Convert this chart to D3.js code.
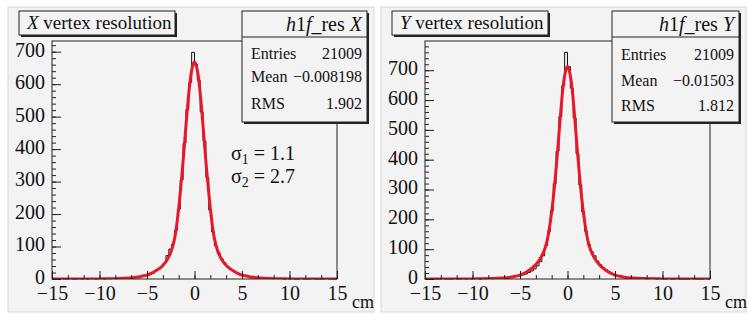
<!DOCTYPE html>
<html>
<head>
<meta charset="utf-8">
<script src="https://cdn.jsdelivr.net/npm/d3@7"></script>
<style>
  body { margin: 0; background: #fff; }
  svg text { font-family: "Liberation Serif", "Times New Roman", serif; fill: #111; }
</style>
</head>
<body>
<div id="chart"></div>
<script>
// histogram binning: 100 bins between -15 and 15 cm
const binLo = -15;
const binHi = 15;
const nBins = 100;

const xTicks = [-15, -10, -5, 0, 5, 10, 15];
const yTicks = [0, 100, 200, 300, 400, 500, 600, 700];

// X vertex residuals, counts per bin (left to right)
const countsX = [
  0, 0, 0, 1, 0, 0, 1, 0, 0, 1,
  0, 1, 0, 1, 1, 0, 1, 1, 0, 1,
  1, 2, 1, 2, 2, 3, 3, 4, 5, 6,
  7, 8, 10, 12, 15, 18, 25, 30, 37, 48,
  72, 92, 108, 150, 215, 305, 418, 522, 605, 698,
  662, 612, 515, 425, 312, 212, 145, 102, 80, 63,
  50, 40, 32, 26, 20, 16, 12, 10, 8, 7,
  6, 5, 4, 3, 3, 2, 2, 1, 2, 1,
  1, 0, 1, 0, 1, 0, 0, 1, 0, 0,
  0, 1, 0, 0, 0, 0, 1, 0, 0, 0
];

// Y vertex residuals
const countsY = [
  0, 0, 1, 0, 0, 0, 1, 0, 0, 0,
  1, 0, 0, 1, 0, 1, 0, 1, 1, 0,
  1, 1, 2, 1, 2, 3, 2, 3, 4, 5,
  6, 8, 9, 11, 14, 17, 22, 27, 34, 44,
  58, 78, 112, 160, 228, 320, 428, 545, 648, 760,
  712, 640, 540, 420, 315, 225, 160, 115, 92, 78,
  60, 48, 38, 31, 25, 19, 15, 12, 9, 7,
  6, 5, 4, 3, 3, 2, 2, 1, 1, 2,
  1, 0, 1, 0, 0, 1, 0, 0, 1, 0,
  0, 0, 0, 1, 0, 0, 0, 0, 1, 0
];

// double gaussian fit
const fitPos = [-15, -12, -10, -9, -8, -7, -6, -5.5, -5, -4.5, -4, -3.5, -3, -2.5, -2.25, -2,
  -1.75, -1.5, -1.25, -1, -0.75, -0.5, -0.25, 0, 0.25, 0.5, 0.75, 1, 1.25, 1.5, 1.75,
  2, 2.25, 2.5, 3, 3.5, 4, 4.5, 5, 5.5, 6, 7, 8, 9, 10, 12, 15];
const fitX = [0, 0, 0.3, 0.7, 1.5, 3, 6, 9, 12, 18, 27, 37, 54, 82, 105, 140,
  195, 265, 345, 435, 525, 600, 650, 668, 650, 600, 525, 435, 345, 265, 195,
  140, 105, 82, 54, 37, 27, 18, 12, 9, 6, 3, 1.5, 0.7, 0.3, 0, 0];
const fitY = [0, 0, 0.3, 0.7, 1.5, 3, 6, 9, 13, 20, 30, 43, 62, 92, 115, 152,
  205, 270, 352, 445, 545, 635, 690, 713, 690, 635, 545, 445, 352, 270, 205,
  152, 115, 92, 62, 43, 30, 20, 13, 9, 6, 3, 1.5, 0.7, 0.3, 0, 0];

const statLabels = ["Entries", "Mean", "RMS"];
const statsX = ["21009", "\u22120.008198", "1.902"];
const statsY = ["21009", "\u22120.01503", "1.812"];

const width = 747;
const height = 314;

const svg = d3.select("#chart").append("svg")
  .attr("width", width)
  .attr("height", height);

drawPanel({ dx: 0, bg: [8, 374], axis: "X", counts: countsX, fit: fitX, stats: statsX,
  statBox: [242, 367], statRows: [59, 82, 109], sigma: true });
drawPanel({ dx: 373, bg: [381, 746], axis: "Y", counts: countsY, fit: fitY, stats: statsY,
  statBox: [612, 739], statRows: [60, 86, 111], sigma: false });

function drawPanel(p) {
  const g = svg.append("g");
  const x0 = 52 + p.dx, x1 = 337 + p.dx;
  const yTop = 41, yBase = 279;

  // pad background
  g.append("rect")
    .attr("x", p.bg[0]).attr("y", 7)
    .attr("width", p.bg[1] - p.bg[0]).attr("height", 305)
    .attr("fill", "#f3f3f3")
    .attr("stroke", "#d8d8d8");

  const x = d3.scaleLinear().domain([binLo, binHi]).range([x0, x1]);
  const y = d3.scaleLinear().domain([0, d3.max(p.counts) * 1.05]).range([yBase, yTop]);

  const bw = (binHi - binLo) / nBins;
  const clipId = "clip" + p.axis;
  g.append("clipPath").attr("id", clipId)
    .append("rect").attr("x", x0).attr("y", yTop).attr("width", x1 - x0).attr("height", yBase - yTop);

  // histogram outline
  const steps = p.counts.map((c, i) => [binLo + i * bw, c]);
  steps.push([binHi, p.counts[nBins - 1]]);
  g.append("path")
    .datum(steps)
    .attr("fill", "none")
    .attr("stroke", "#111")
    .attr("stroke-width", 1)
    .attr("d", d3.line().x(d => x(d[0])).y(d => y(d[1])).curve(d3.curveStepAfter));

  // fit
  g.append("path")
    .datum(fitPos.map((v, i) => [v, p.fit[i]]))
    .attr("clip-path", `url(#${clipId})`)
    .attr("fill", "none")
    .attr("stroke", "#e8182a")
    .attr("stroke-width", 3)
    .attr("d", d3.line().x(d => x(d[0])).y(d => y(d[1])).curve(d3.curveMonotoneX));

  // frame
  g.append("rect")
    .attr("x", x0).attr("y", yTop)
    .attr("width", x1 - x0).attr("height", yBase - yTop)
    .attr("fill", "none").attr("stroke", "#222");

  // axes, ticks pointing inside
  const yMinor = g.append("g").attr("transform", `translate(${x0},0)`)
    .call(d3.axisLeft(y).tickValues(d3.range(0, y.domain()[1], 20)).tickSize(-4).tickFormat(""));
  const yAx = g.append("g").attr("transform", `translate(${x0},0)`)
    .call(d3.axisLeft(y).tickValues(yTicks).tickSizeInner(-9).tickSizeOuter(0).tickPadding(7));
  const xMinor = g.append("g").attr("transform", `translate(0,${yBase})`)
    .call(d3.axisBottom(x).tickValues(d3.range(binLo, binHi + 0.01, 5 / 3)).tickSize(-4).tickFormat(""));
  const xAx = g.append("g").attr("transform", `translate(0,${yBase})`)
    .call(d3.axisBottom(x).tickValues(xTicks).tickSizeInner(-8).tickSizeOuter(0).tickPadding(7));

  [yMinor, yAx, xMinor, xAx].forEach(a => {
    a.select(".domain").remove();
    a.selectAll("line").attr("stroke", "#222");
    a.selectAll("text").attr("font-size", 20).attr("fill", "#111")
      .attr("font-family", "Liberation Serif");
  });
  yAx.selectAll("text").attr("dy", "0.22em");

  g.append("text")
    .attr("x", 352 + p.dx).attr("y", 308)
    .attr("font-size", 18)
    .text("cm");

  // title box
  const tx = 19 + p.dx;
  g.append("rect").attr("x", tx + 2).attr("y", 13).attr("width", 156).attr("height", 24).attr("fill", "#222");
  g.append("rect").attr("x", tx).attr("y", 11).attr("width", 156).attr("height", 24)
    .attr("fill", "#f3f3f3").attr("stroke", "#222");
  const title = g.append("text").attr("x", tx + 8).attr("y", 29).attr("font-size", 19);
  title.append("tspan").attr("font-style", "italic").text(p.axis);
  title.append("tspan").text(" vertex resolution");

  // stats box
  const sx0 = p.statBox[0], sx1 = p.statBox[1];
  g.append("rect").attr("x", sx0 + 2).attr("y", 13).attr("width", sx1 - sx0).attr("height", 111).attr("fill", "#222");
  g.append("rect").attr("x", sx0).attr("y", 11).attr("width", sx1 - sx0).attr("height", 111)
    .attr("fill", "#f3f3f3").attr("stroke", "#222");
  g.append("line").attr("x1", sx0).attr("x2", sx1).attr("y1", 37).attr("y2", 37).attr("stroke", "#222");
  const head = g.append("text").attr("x", sx1 - 5).attr("y", 31).attr("font-size", 20).attr("text-anchor", "end");
  head.append("tspan").attr("font-style", "italic").text("h");
  head.append("tspan").text("1");
  head.append("tspan").attr("font-style", "italic").text("f");
  head.append("tspan").text("_res ");
  head.append("tspan").attr("font-style", "italic").text(p.axis);

  statLabels.forEach((lab, i) => {
    g.append("text").attr("x", sx0 + 9).attr("y", p.statRows[i]).attr("font-size", 16).text(lab);
    g.append("text").attr("x", sx1 - 5).attr("y", p.statRows[i]).attr("font-size", 16)
      .attr("text-anchor", "end").text(p.stats[i]);
  });

  if (p.sigma) {
    [["1", "1.1", 160], ["2", "2.7", 183]].forEach(s => {
      const t = g.append("text").attr("x", 231).attr("y", s[2]).attr("font-size", 20);
      t.append("tspan").text("\u03c3");
      t.append("tspan").attr("font-size", 14).attr("dy", 4).text(s[0]);
      t.append("tspan").attr("dy", -4).text(" = " + s[1]);
    });
  }
}
</script>
</body>
</html>
